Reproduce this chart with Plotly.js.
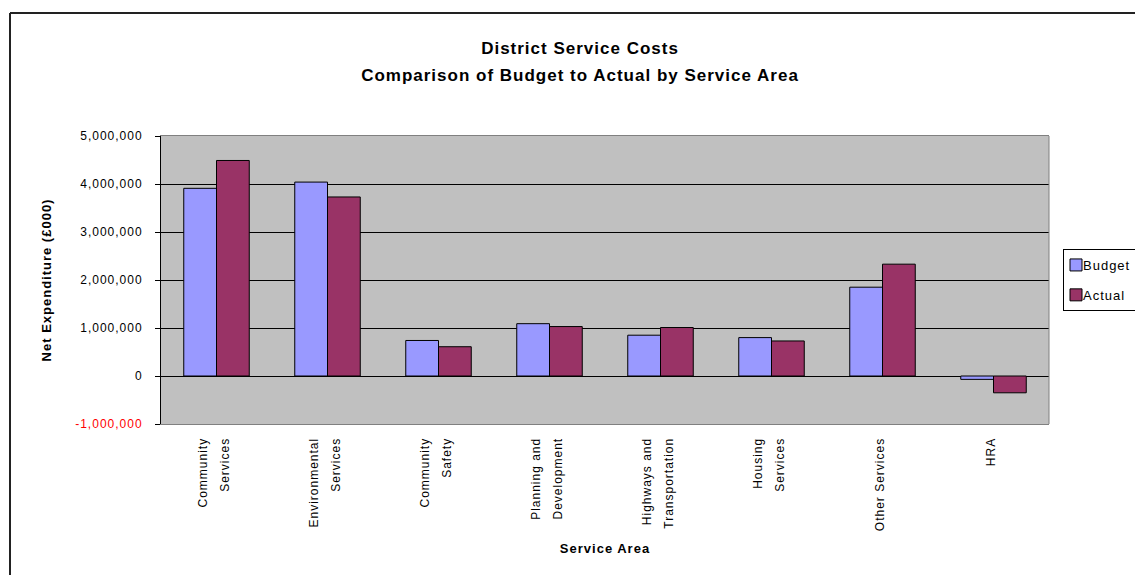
<!DOCTYPE html>
<html>
<head>
<meta charset="utf-8">
<script src="https://cdn.plot.ly/plotly-3.0.1.min.js"></script>
<style>
  html, body { margin: 0; padding: 0; background: #fff; }
  #chart { width: 1135px; height: 575px; }
  svg text { letter-spacing: 1px; }
</style>
</head>
<body>
<div id="chart"></div>
<script>
const categories = [
  "Community<br>Services",
  "Environmental<br>Services",
  "Community<br>Safety",
  "Planning and<br>Development",
  "Highways and<br>Transportation",
  "Housing<br>Services",
  "Other Services",
  "HRA"
];
const budget = [3910000, 4040000, 740000, 1090000, 850000, 800000, 1850000, -70000];
const actual = [4490000, 3730000, 610000, 1030000, 1010000, 730000, 2330000, -350000];
const yTickValues = [-1000000, 0, 1000000, 2000000, 3000000, 4000000, 5000000];
const titleLines = ["District Service Costs", "Comparison of Budget to Actual by Service Area"];

const fmt = v => {
  const s = Math.abs(v).toLocaleString('en-GB');
  return v < 0 ? '<span style="color:#ff0000">-' + s + '</span>' : s;
};
const yTickText = yTickValues.map(fmt);
const small = (t, px) => '<span style="font-size:' + px + 'px">' + t + '</span>';
const xTickText = categories.map(c => c.split('<br>').map(p => small(p, 12)).join('<br>'));
const titleText = titleLines.map(t => small('<b>' + t + '</b>', 17)).join('<br>');
const boundaries = categories.map((c, i) => i - 0.5).concat([categories.length - 0.5]);

const font = "Arial, 'Liberation Sans', sans-serif";

const traces = [
  {
    type: 'bar', name: 'Budget', x: categories, y: budget,
    marker: { color: '#9999FF', line: { color: '#000000', width: 1 } },
    legendgroup: 'b'
  },
  {
    type: 'bar', name: 'Actual', x: categories, y: actual,
    marker: { color: '#993366', line: { color: '#000000', width: 1 } },
    legendgroup: 'a'
  }
];

const L = 161, R = 1049, T = 136, B = 424;
const PW = R - L, PH = B - T;

const layout = {
  width: 1135, height: 575,
  margin: { l: L, r: 1135 - R, t: T, b: 575 - B, autoexpand: false },
  paper_bgcolor: '#ffffff',
  plot_bgcolor: '#C0C0C0',
  font: { family: font, size: 12, color: '#000000' },
  barmode: 'group',
  bargap: 0.41,
  bargroupgap: 0,
  title: {
    text: titleText,
    font: { family: font, size: 21, color: '#000000' },
    x: (580 - L) / PW, xref: 'paper', xanchor: 'center',
    y: 1 - 53.5 / 575, yref: 'container', yanchor: 'middle'
  },
  xaxis: {
    type: 'category',
    range: [-0.5, categories.length - 0.5],
    tickmode: 'array', tickvals: categories, ticktext: xTickText,
    tickangle: -90,
    ticks: '',
    automargin: false,
    showgrid: false,
    showline: true, linecolor: '#808080', linewidth: 1, mirror: true,
    zeroline: false,
    tickfont: { family: font, size: 17, color: '#000000' },
    ticklabelstandoff: 6,
    ticklabelshift: -4,
    title: { text: '<b>Service Area</b>', font: { family: font, size: 13, color: '#000000' }, standoff: 13 },
    fixedrange: true
  },
  xaxis2: {
    overlaying: 'x', anchor: 'free', position: 1 / 6,
    range: [-0.5, categories.length - 0.5],
    tickmode: 'array', tickvals: boundaries,
    ticks: 'outside', ticklen: 5, tickcolor: '#000000', tickwidth: 1,
    showticklabels: false, showgrid: false, showline: false, zeroline: false
  },
  yaxis: {
    range: [-1000000, 5000000],
    automargin: false,
    tickmode: 'array', tickvals: yTickValues, ticktext: yTickText,
    ticks: 'outside', ticklen: 5, tickcolor: '#000000',
    showgrid: true, gridcolor: '#000000', gridwidth: 1,
    zeroline: true, zerolinecolor: '#000000', zerolinewidth: 1,
    showline: true, linecolor: '#000000', linewidth: 1,
    tickfont: { family: font, size: 12, color: '#000000' },
    ticklabelstandoff: 10,
    title: { text: '<b>Net Expenditure (£000)</b>', font: { family: font, size: 13, color: '#000000' }, standoff: 20 },
    fixedrange: true
  },
  showlegend: true,
  legend: {
    xref: 'container', yref: 'container',
    x: 1063 / 1135, xanchor: 'left',
    y: 1 - 249 / 575, yanchor: 'top',
    bgcolor: '#ffffff', bordercolor: '#000000', borderwidth: 1,
    font: { family: font, size: 13, color: '#000000' },
    itemwidth: 30,
    traceorder: 'grouped', tracegroupgap: 10
  },
  shapes: [
    { type: 'line', xref: 'paper', yref: 'paper', x0: 1, x1: 1, y0: 0, y1: 1, line: { color: '#808080', width: 1 } },
    { type: 'line', xref: 'paper', yref: 'paper', x0: (10 - L) / PW, x1: (10 - L) / PW, y0: -1, y1: (B - 13) / PH, line: { color: '#222222', width: 2 } },
    { type: 'line', xref: 'paper', yref: 'paper', x0: (10 - L) / PW, x1: 2, y0: (B - 13) / PH, y1: (B - 13) / PH, line: { color: '#222222', width: 2 } }
  ]
};

Plotly.newPlot('chart', traces, layout, { displayModeBar: false, staticPlot: true }).then(gd => {
  // tighten legend entries: symbol and label closer to the box's left edge
  gd.querySelectorAll('.legend .traces').forEach(tr => {
    const pts = tr.querySelector('.legendpoints');
    if (pts) pts.setAttribute('transform', 'translate(-8,0)');
    const txt = tr.querySelector('.legendtext');
    if (txt) txt.setAttribute('x', Number(txt.getAttribute('x')) - 21);
  });
});
</script>
</body>
</html>
